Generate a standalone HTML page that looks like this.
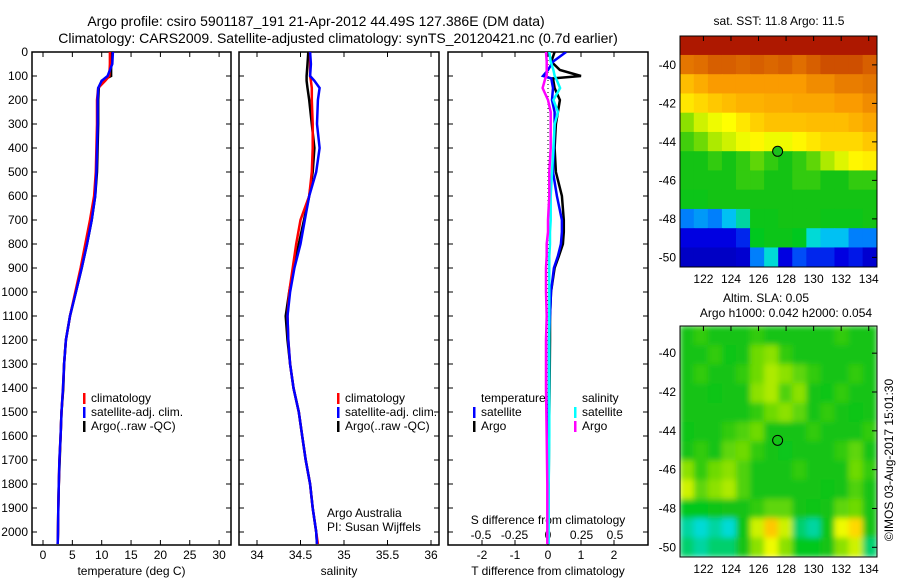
<!DOCTYPE html>
<html><head><meta charset="utf-8"><style>
body{margin:0;background:#fff;}
svg text{font-family:"Liberation Sans",sans-serif;font-size:12px;fill:#000;}
</style></head><body>
<svg id="fig" width="900" height="580" viewBox="0 0 900 580" xmlns="http://www.w3.org/2000/svg">
<defs>
<clipPath id="c1"><rect x="32" y="52" width="199" height="493"/></clipPath>
<clipPath id="c2"><rect x="239" y="52" width="200" height="493"/></clipPath>
<clipPath id="c3"><rect x="448" y="52" width="200" height="493"/></clipPath>
<clipPath id="cm1"><rect x="680" y="36" width="197" height="231"/></clipPath>
<clipPath id="cm2"><rect x="680" y="326" width="197" height="231"/></clipPath>
<filter id="blur" x="0" y="0" width="1" height="1"><feGaussianBlur stdDeviation="3"/></filter>
</defs>
<text x="316" y="26" text-anchor="middle" style="font-size:14px">Argo profile: csiro 5901187_191 21-Apr-2012 44.49S 127.386E (DM data)</text>
<text x="338" y="43" text-anchor="middle" style="font-size:14px">Climatology: CARS2009. Satellite-adjusted climatology: synTS_20120421.nc (0.7d earlier)</text>
<g id="g1"></g>
<g id="g2"></g>
<g id="g3"></g>
<g id="m1"></g>
<g id="m2"></g>
<text x="779" y="25" text-anchor="middle" style="font-size:12px">sat. SST: 11.8 Argo: 11.5</text>
<text x="766" y="302" text-anchor="middle" style="font-size:12px">Altim. SLA: 0.05</text>
<text x="786" y="317" text-anchor="middle" style="font-size:12px">Argo h1000: 0.042 h2000: 0.054</text>
<text transform="translate(893,460) rotate(-90)" text-anchor="middle" style="font-size:12px">©IMOS 03-Aug-2017 15:01:30</text>
</svg>
<script>
// ---- profile data ----
const depths=[0,50,100,120,150,200,300,400,500,600,700,800,900,1000,1100,1200,1300,1400,1500,1600,1700,1800,1900,2000,2050];
const tempClim=[11.4,11.4,11.3,10.6,9.4,9.2,9.2,9.1,9.0,8.7,8.0,7.2,6.4,5.5,4.6,3.9,3.6,3.4,3.15,3.0,2.8,2.7,2.6,2.55,2.5];
const tempSat=[11.9,11.8,11.0,10.0,9.4,9.3,9.3,9.2,9.1,8.9,8.3,7.5,6.6,5.6,4.6,3.9,3.6,3.4,3.15,3.0,2.8,2.7,2.6,2.55,2.5];
const tempArgo=[11.6,11.6,11.6,10.0,9.5,9.4,9.4,9.3,9.2,8.9,8.3,7.5,6.6,5.6,4.6,3.9,3.6,3.45,3.15,3.0,2.85,2.7,2.6,2.55,2.5];
const salClim=[34.61,34.61,34.61,34.62,34.63,34.63,34.64,34.64,34.63,34.6,34.5,34.45,34.41,34.37,34.35,34.36,34.38,34.42,34.48,34.52,34.56,34.61,34.64,34.68,34.7];
const salSat=[34.61,34.62,34.61,34.66,34.72,34.7,34.69,34.72,34.68,34.6,34.55,34.5,34.43,34.38,34.35,34.36,34.38,34.42,34.48,34.52,34.56,34.61,34.64,34.68,34.69];
const salArgo=[34.59,34.58,34.57,34.57,34.58,34.6,34.63,34.66,34.64,34.6,34.54,34.48,34.42,34.37,34.33,34.35,34.38,34.42,34.48,34.52,34.56,34.61,34.64,34.68,34.69];
const diffDepths=[0,40,75,100,110,150,200,250,300,400,500,600,700,750,800,850,900,1000,1100,1200,1400,1600,1800,2000,2050];
const dTArgo=[0.2,0.1,0.36,1.0,0.15,0.2,0.36,0.3,0.24,0.2,0.24,0.42,0.48,0.48,0.45,0.33,0.2,0.09,0.06,0.06,0.05,0.03,0.02,0.01,0.01];
const dTSat=[0.55,0.15,0.0,-0.15,0.1,0.15,0.12,0.2,0.2,0.18,0.15,0.27,0.42,0.42,0.39,0.3,0.18,0.09,0.06,0.03,0.03,0.02,0.02,0.01,0.01];
const dSSat=[0.01,0.02,0.04,0.05,0.06,0.09,0.04,0.075,0.05,0.04,0.03,0.02,0.02,0.015,0.015,0.01,0.01,0.01,0.01,0.01,0.01,0.01,0.005,0.005,0.005];
const dSArgo=[-0.015,-0.01,-0.01,-0.01,-0.02,-0.04,0.0,0.02,0.02,0.02,0.01,0.01,0.0,0.0,-0.01,-0.01,-0.015,-0.015,-0.01,-0.015,-0.015,-0.01,-0.005,-0.005,-0.005];
const depthTicks=[0,100,200,300,400,500,600,700,800,900,1000,1100,1200,1300,1400,1500,1600,1700,1800,1900,2000];
const tempTicks=[0,5,10,15,20,25,30];
const salTicks=[34,34.5,35,35.5,36];
const salTickLabels=["34","34.5","35","35.5","36"];
const dTTicks=[-2,-1,0,1,2];
const dSTicks=[-0.5,-0.25,0,0.25,0.5];
const dSTickLabels=["-0.5","-0.25","0","0.25","0.5"];
// ---- map data (colour scale 0..1), rows north->south ----
const mapLons=[122,124,126,128,130,132,134];
const mapLats=[-40,-42,-44,-46,-48,-50];
const sstGrid=[
[0.97,0.97,0.97,0.97,0.97,0.97,0.97,0.97,0.97,0.97,0.97,0.97,0.97,0.97],
[0.85,0.86,0.88,0.88,0.87,0.88,0.87,0.88,0.86,0.88,0.9,0.9,0.9,0.88],
[0.74,0.77,0.8,0.8,0.8,0.8,0.8,0.8,0.8,0.82,0.82,0.84,0.84,0.85],
[0.68,0.7,0.72,0.74,0.76,0.76,0.77,0.77,0.78,0.78,0.78,0.8,0.8,0.82],
[0.58,0.62,0.64,0.65,0.68,0.71,0.73,0.73,0.73,0.74,0.74,0.74,0.76,0.78],
[0.53,0.56,0.6,0.62,0.64,0.66,0.64,0.64,0.66,0.68,0.7,0.7,0.7,0.72],
[0.5,0.5,0.52,0.5,0.52,0.55,0.52,0.5,0.52,0.55,0.6,0.63,0.66,0.67],
[0.5,0.5,0.5,0.5,0.52,0.52,0.5,0.5,0.52,0.52,0.5,0.5,0.52,0.52],
[0.48,0.48,0.5,0.5,0.5,0.5,0.5,0.5,0.5,0.5,0.5,0.5,0.5,0.5],
[0.3,0.32,0.3,0.35,0.4,0.48,0.48,0.5,0.5,0.5,0.48,0.48,0.48,0.5],
[0.15,0.15,0.15,0.15,0.2,0.45,0.48,0.48,0.45,0.38,0.35,0.35,0.3,0.3],
[0.1,0.1,0.1,0.1,0.12,0.3,0.38,0.15,0.25,0.2,0.2,0.15,0.18,0.12]];
const slaGrid=[
[0.5,0.52,0.5,0.5,0.5,0.52,0.5,0.5,0.5,0.5,0.5,0.52,0.5,0.5],
[0.5,0.5,0.52,0.48,0.5,0.56,0.58,0.52,0.5,0.5,0.5,0.5,0.5,0.5],
[0.5,0.52,0.5,0.5,0.52,0.56,0.6,0.58,0.55,0.52,0.5,0.5,0.52,0.5],
[0.5,0.5,0.48,0.5,0.5,0.58,0.6,0.54,0.58,0.5,0.48,0.52,0.5,0.5],
[0.5,0.5,0.5,0.5,0.5,0.52,0.56,0.58,0.55,0.5,0.52,0.5,0.48,0.5],
[0.48,0.5,0.5,0.52,0.54,0.56,0.5,0.5,0.5,0.52,0.5,0.5,0.5,0.52],
[0.5,0.52,0.5,0.55,0.56,0.52,0.5,0.47,0.5,0.5,0.5,0.52,0.55,0.5],
[0.58,0.52,0.56,0.58,0.54,0.5,0.5,0.5,0.52,0.5,0.5,0.5,0.56,0.52],
[0.62,0.55,0.58,0.6,0.54,0.5,0.5,0.5,0.5,0.5,0.48,0.5,0.54,0.5],
[0.45,0.45,0.48,0.5,0.5,0.52,0.55,0.55,0.5,0.48,0.5,0.55,0.56,0.5],
[0.4,0.38,0.4,0.38,0.48,0.62,0.72,0.62,0.42,0.4,0.48,0.64,0.7,0.5],
[0.42,0.4,0.42,0.42,0.5,0.58,0.64,0.58,0.45,0.45,0.5,0.58,0.62,0.42]];
const argoLon=127.386, argoLat=-44.49;

const NS="http://www.w3.org/2000/svg";
function mk(parent,tag,attrs,text){const e=document.createElementNS(NS,tag);for(const k in attrs)e.setAttribute(k,attrs[k]);if(text!==undefined)e.textContent=text;parent.appendChild(e);return e;}
const yD=d=>52+d*0.24;

function panel(g,x0,x1,clip,xs,ticks,labels,showDepth,xlabel){
  const r=mk(g,'rect',{x:x0,y:52,width:x1-x0,height:493,fill:'none',stroke:'#000','stroke-width':1.5});
  
  
  depthTicks.forEach(d=>{
    mk(g,'line',{x1:x0,x2:x0+5,y1:yD(d),y2:yD(d),stroke:'#000'});
    mk(g,'line',{x1:x1-5,x2:x1,y1:yD(d),y2:yD(d),stroke:'#000'});
    if(showDepth){const t=mk(g,'text',{x:28,y:yD(d)+4,'text-anchor':'end'},String(d));
      
      }
  });
  ticks.forEach((v,i)=>{
    const x=xs(v);
    mk(g,'line',{x1:x,x2:x,y1:545,y2:540,stroke:'#000'});
    mk(g,'line',{x1:x,x2:x,y1:52,y2:57,stroke:'#000'});
    const t=mk(g,'text',{x:x,y:559,'text-anchor':'middle'},labels[i]);
    
    
  });
  const xl=mk(g,'text',{x:(x0+x1)/2,y:575,'text-anchor':'middle'},xlabel);
  
  
}
function line(g,clip,ys,vals,xs,color,name){
  const pts=vals.map((v,i)=>xs(v).toFixed(1)+','+yD(ys[i]).toFixed(1)).join(' ');
  const p=mk(g,'polyline',{points:pts,fill:'none',stroke:color,'stroke-width':2.5,'clip-path':'url(#'+clip+')'});
  
  
}
function legend(g,x,y,items){
  items.forEach((it,i)=>{
    mk(g,'rect',{x:x,y:y+i*14-9,width:2.5,height:11,fill:it[0]});
    const t=mk(g,'text',{x:x+8,y:y+i*14},it[1]);
    
    
  });
}
// panel 1
const g1=document.getElementById('g1');
const xT=v=>43+v*5.87;
panel(g1,32,231,'c1',xT,tempTicks,tempTicks.map(String),true,'temperature (deg C)');
line(g1,'c1',depths,tempArgo,xT,'#000','temp-argo-line');
line(g1,'c1',depths,tempClim,xT,'#f00','temp-climatology-line');
line(g1,'c1',depths,tempSat,xT,'#00f','temp-satellite-line');
legend(g1,83,402,[['#f00','climatology'],['#00f','satellite-adj. clim.'],['#000','Argo(..raw -QC)']]);
// panel 2
const g2=document.getElementById('g2');
const xS=v=>257+(v-34)*87;
panel(g2,239,439,'c2',xS,salTicks,salTickLabels,false,'salinity');
line(g2,'c2',depths,salArgo,xS,'#000','sal-argo-line');
line(g2,'c2',depths,salClim,xS,'#f00','sal-climatology-line');
line(g2,'c2',depths,salSat,xS,'#00f','sal-satellite-line');
legend(g2,337,402,[['#f00','climatology'],['#00f','satellite-adj. clim.'],['#000','Argo(..raw -QC)']]);
mk(g2,'text',{x:327,y:517},'Argo Australia');
mk(g2,'text',{x:327,y:531},'PI: Susan Wijffels');
// panel 3
const g3=document.getElementById('g3');
const xdT=v=>548+v*33;
const xdS=v=>548+v*134;
panel(g3,448,648,'c3',xdT,dTTicks,dTTicks.map(String),false,'T difference from climatology');
dSTicks.forEach((v,i)=>{const s=mk(g3,'text',{x:xdS(v),y:539,'text-anchor':'middle'},dSTickLabels[i]);
  
  });
mk(g3,'text',{x:548,y:524,'text-anchor':'middle'},'S difference from climatology');
mk(g3,'line',{x1:xdT(0),x2:xdT(0),y1:52,y2:545,stroke:'#000','stroke-dasharray':'1,3'});
line(g3,'c3',diffDepths,dTArgo,xdT,'#000','dT-argo-line');
line(g3,'c3',diffDepths,dTSat,xdT,'#00f','dT-satellite-line');
line(g3,'c3',diffDepths,dSSat,xdS,'#0ff','dS-satellite-line');
line(g3,'c3',diffDepths,dSArgo,xdS,'#f0f','dS-argo-line');
mk(g3,'text',{x:481,y:402},'temperature');
mk(g3,'text',{x:582,y:402},'salinity');
legend(g3,473,416,[['#00f','satellite'],['#000','Argo']]);
legend(g3,574,416,[['#0ff','satellite'],['#f0f','Argo']]);
// colour scale
const cStops=[[0,[0,0,140]],[0.15,[0,0,225]],[0.28,[0,100,255]],[0.37,[0,220,240]],[0.45,[0,200,30]],[0.5,[20,195,20]],[0.58,[140,225,0]],[0.65,[255,255,0]],[0.72,[255,200,0]],[0.8,[250,155,0]],[0.88,[215,95,0]],[1,[160,0,0]]];
function cmap(v){
  for(let i=1;i<cStops.length;i++){
    if(v<=cStops[i][0]){const a=cStops[i-1],b=cStops[i];const f=(v-a[0])/(b[0]-a[0]);
      return 'rgb('+a[1].map((c,k)=>Math.round(c+(b[1][k]-c)*f)).join(',')+')';}
  }
  return 'rgb(160,0,0)';
}
function map(gid,y0,latTop,grid,clip,blur,fillMarker){
  const g=document.getElementById(gid);
  const lon0=120.3, lon1=134.6, latBot=-50.5;
  const xs=lo=>680+(lo-lon0)/(lon1-lon0)*197;
  const ys=la=>y0+(latTop-la)/(latTop-latBot)*231;
  const cells=mk(g,'g',{'clip-path':'url(#'+clip+')'});
  const inner=mk(cells,'g',blur?{filter:'url(#blur)'}:{});
  const rows=grid.length, cols=grid[0].length;
  const dLat=(latTop-latBot)/rows, dLon=(lon1-lon0)/cols;
  grid.forEach((row,i)=>row.forEach((v,j)=>{
    const x=xs(lon0+j*dLon), y=ys(latTop-i*dLat);
    const r=mk(inner,'rect',{x:x-0.3,y:y-0.3,width:xs(lon0+(j+1)*dLon)-x+0.6,height:ys(latTop-(i+1)*dLat)-y+0.6,fill:cmap(v)});
    
    
  }));
  mk(g,'rect',{x:680,y:y0,width:197,height:231,fill:'none',stroke:'#000'});
  mapLats.forEach(la=>{
    const y=ys(la);
    mk(g,'line',{x1:872,x2:877,y1:y,y2:y,stroke:'#000'});
    const tx=mk(g,'text',{x:676,y:y+4,'text-anchor':'end'},String(la));
    
    
  });
  mapLons.forEach(lo=>{
    const x=xs(lo);
    mk(g,'line',{x1:x,x2:x,y1:y0,y2:y0+5,stroke:'#000'});
    const tx=mk(g,'text',{x:x,y:y0+231+16,'text-anchor':'middle'},String(lo));
    
    
  });
  const m=mk(g,'circle',{cx:xs(argoLon),cy:ys(argoLat),r:5,fill:fillMarker?'#1cc01c':'none',stroke:'#000'});
  
  
}
map('m1',36,-38.5,sstGrid,'cm1',false,true);
map('m2',326,-38.6,slaGrid,'cm2',true,false);
</script>
</body></html>
